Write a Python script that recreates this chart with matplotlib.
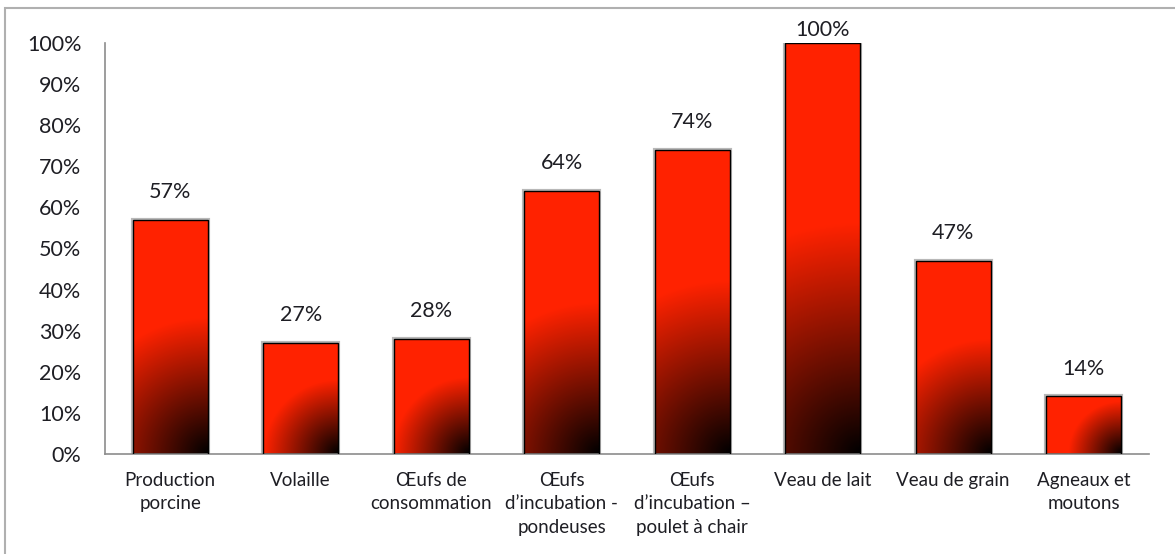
import numpy as np
import matplotlib
matplotlib.use("Agg")
import matplotlib.pyplot as plt
from matplotlib.patches import Rectangle
from matplotlib.ticker import FuncFormatter

categories = ["Production\nporcine", "Volaille", "Œufs de\nconsommation",
              "Œufs\nd’incubation -\npondeuses", "Œufs\nd’incubation –\npoulet à chair",
              "Veau de lait", "Veau de grain", "Agneaux et\nmoutons"]
values = [57, 27, 28, 64, 74, 100, 47, 14]
yticks = [0, 10, 20, 30, 40, 50, 60, 70, 80, 90, 100]

plt.rcParams['font.family'] = ['Lato', 'DejaVu Sans']
TXT = "#1e1e24"
RED = np.array([1.0, 0.135, 0.0])

W, H = 1175, 554
fig = plt.figure(figsize=(W / 100, H / 100), dpi=100)
ax = fig.add_axes([105 / W, 1 - 454 / H, (1149 - 105) / W, (454 - 43) / H])

x = np.arange(len(categories))
# soft grey halo behind bars
ax.bar(x, values, width=0.575, color="none", edgecolor="#b8b8b8",
       linewidth=3.0, zorder=1)
bars = ax.bar(x, values, width=0.575, color="none", edgecolor="black",
              linewidth=1.0, zorder=3)
ax.set_xlim(-0.5, len(categories) - 0.5)
ax.set_ylim(0, 100)

fig.canvas.draw()
for rect in bars:
    x0, y0 = rect.get_x(), rect.get_y()
    w, h = rect.get_width(), rect.get_height()
    (px0, py0), (px1, py1) = ax.transData.transform([(x0, y0), (x0 + w, y0 + h)])
    nx = max(int(round(px1 - px0)), 2)
    ny = max(int(round(py1 - py0)), 2)
    diag = np.hypot(nx, ny)
    xx = np.arange(nx)[None, :]
    yy = np.arange(ny)[:, None]  # row 0 = top
    dx = (nx - 1) - xx
    vdist = (ny - 1) - yy
    dist = np.hypot(dx, vdist)
    t = np.clip(dist / (0.55 * diag), 0, 1)
    img = t[..., None] * RED[None, None, :]
    im = ax.imshow(img, extent=(x0, x0 + w, y0, y0 + h), origin="upper",
                   aspect="auto", zorder=2, interpolation="bilinear")
    clip = Rectangle((x0, y0), w, h, transform=ax.transData)
    im.set_clip_path(clip)

ax.set_xlim(-0.5, len(categories) - 0.5)
ax.set_ylim(0, 100)

for xi, v in zip(x, values):
    off = 20 if v <= 90 else 9
    ax.annotate(f"{v}%", (xi, v), xytext=(0, off), textcoords="offset points",
                ha="center", va="center", fontsize=15.5, color=TXT)

ax.set_yticks(yticks)
ax.yaxis.set_major_formatter(FuncFormatter(lambda v, p: f"{int(v)}%"))
ax.set_xticks(x)
ax.set_xticklabels(categories, fontsize=13.5, color=TXT, linespacing=1.45, va="top")
ax.tick_params(axis="y", length=0, pad=17, labelsize=15.5, labelcolor=TXT)
ax.tick_params(axis="x", length=0, pad=13)
for s in ["top", "right"]:
    ax.spines[s].set_visible(False)
for s in ["left", "bottom"]:
    ax.spines[s].set_color("#8c8c8c")
    ax.spines[s].set_linewidth(1.2)

fig.patches.append(Rectangle((5 / W, -0.05), 1.2, 1 - 8 / H + 0.05, transform=fig.transFigure,
                             fill=False, edgecolor="#b0b0b0", linewidth=1.5))

fig.savefig("out.png", dpi=100)
